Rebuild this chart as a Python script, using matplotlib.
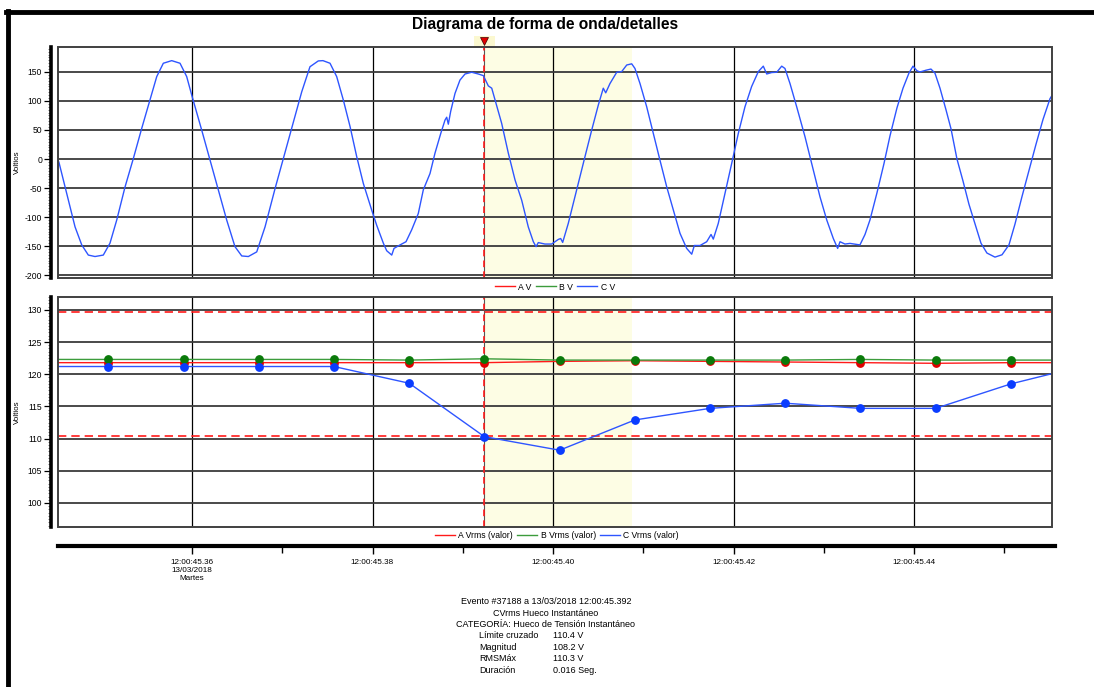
import matplotlib
matplotlib.use("Agg")
import matplotlib.pyplot as plt
from matplotlib.ticker import MultipleLocator, FixedLocator
from matplotlib.lines import Line2D
from matplotlib.patches import Rectangle
import matplotlib.transforms as mtransforms

plt.rcParams['font.family'] = ['Liberation Sans', 'DejaVu Sans']
plt.rcParams['axes.unicode_minus'] = False

# ---------------- data ----------------
# time axis: milliseconds after 12:00:45.340
wave_t = [4.82, 5.26, 5.74, 6.48, 7.04, 7.78, 8.51, 9.25, 10.17, 10.91,
          11.66, 12.58, 13.50, 14.43, 15.35, 16.09, 16.82, 17.75, 18.67, 19.41,
          19.97, 21.07, 22.00, 22.91, 23.84, 24.76, 25.51, 26.24, 27.17, 28.09,
          29.20, 30.12, 31.05, 32.16, 33.07, 33.99, 34.51, 35.29, 36.03, 36.76,
          37.51, 38.25, 38.98, 39.91, 40.46, 41.20, 41.57, 42.13, 42.38, 43.05,
          43.71, 44.34, 45.07, 45.63, 46.37, 46.92, 47.56, 48.03, 48.22, 48.40,
          48.66, 49.14, 49.69, 50.25, 50.99, 51.72, 52.28, 52.83, 53.21, 53.57,
          54.31, 55.05, 55.79, 56.53, 57.26, 57.82, 58.12, 58.37, 59.11, 59.85,
          60.59, 60.85, 61.07, 61.69, 62.62, 63.35, 63.54, 64.29, 65.02, 65.57,
          65.84, 66.31, 67.06, 67.61, 68.17, 68.72, 69.08, 69.64, 70.38, 71.11,
          71.85, 72.60, 73.33, 74.07, 74.81, 75.37, 75.66, 76.29, 77.03, 77.51,
          77.76, 78.31, 79.06, 79.80, 80.53, 81.27, 82.01, 82.75, 83.30, 83.68,
          84.23, 84.79, 85.34, 85.70, 86.26, 87.00, 87.92, 88.84, 89.58, 90.33,
          91.06, 91.54, 91.80, 92.35, 92.91, 93.38, 94.01, 94.57, 95.12, 95.90,
          96.67, 97.34, 98.11, 98.78, 99.44, 99.89, 100.33, 100.66, 101.33, 101.88,
          102.32, 102.88, 103.54, 104.10, 104.76, 105.43, 106.09, 106.76, 107.42, 108.08,
          108.97, 109.75, 110.52, 111.19, 111.96, 112.74, 113.51, 114.29, 115.07, 115.62]
wave_c = [12, -6, -36, -82, -117, -148, -165.5, -168, -165.5, -145,
          -105, -48, 1, 53, 102, 142, 165, 169.5, 165, 142,
          110, 50, -2, -53, -105, -151, -167, -168, -160, -117,
          -51, 1, 53, 116, 159, 169, 169.5, 165, 142, 102,
          56, 4, -42, -88, -114, -145, -158, -165.5, -154, -148,
          -142.5, -122, -94, -53, -25, 10, 44, 67, 72, 60,
          82, 113, 136, 146.5, 149.5, 146.5, 143.7, 126, 122, 102,
          61.5, 10, -36, -71, -117, -142.5, -151, -144, -146.5, -146.5,
          -138.5, -137, -143.7, -111, -53, -7.5, 4, 50, 93, 122,
          114, 130, 149.5, 150.6, 162, 164, 156, 130, 90, 44,
          -2, -48, -88, -128, -154, -164, -149, -149, -142.5, -130,
          -138, -111, -59, -7.5, 44, 90, 125, 150.6, 160, 146.5,
          149, 149.5, 160, 156, 130, 90, 38.5, -19, -65, -105,
          -137, -154, -142.5, -146.5, -145.4, -146.5, -148, -130, -105, -58,
          -8, 40, 88, 122, 148, 160, 152, 150, 153, 155,
          148, 122, 85, 52, 0, -38, -78, -112, -145, -162,
          -169, -165, -148, -112, -65, -20, 25, 68, 104, 118]

rms_t = [2.40, 10.73, 19.07, 27.40, 35.73, 44.07, 52.40, 60.73,
         69.07, 77.40, 85.73, 94.07, 102.40, 110.73, 119.07]
rms_a = [121.8, 121.8, 121.8, 121.8, 121.8, 121.8, 121.8, 122.0,
         122.1, 122.0, 121.9, 121.8, 121.7, 121.8, 121.8]
rms_b = [122.3, 122.3, 122.3, 122.3, 122.3, 122.2, 122.4, 122.2,
         122.2, 122.2, 122.2, 122.3, 122.2, 122.2, 122.2]
rms_c = [121.2, 121.2, 121.2, 121.2, 121.2, 118.6, 110.3, 108.2,
         112.9, 114.7, 115.5, 114.7, 114.7, 118.5, 121.4]

limit_low = 110.4
limit_high = 129.6
event_start = 52.4
event_end = 68.8

tick_ms = [20, 40, 60, 80, 100]
minor_ms = [30, 50, 70, 90, 110]
tick_labels = ["12:00:45.36\n13/03/2018\nMartes", "12:00:45.38",
               "12:00:45.40", "12:00:45.42", "12:00:45.44"]

wave_legend = ["A V", "B V", "C V"]
rms_legend = ["A Vrms (valor)", "B Vrms (valor)", "C Vrms (valor)"]

info_head = ["Evento #37188 a 13/03/2018 12:00:45.392",
             "CVrms Hueco Instantáneo",
             "CATEGORÍA: Hueco de Tensión Instantáneo"]
info_keys = ["Límite cruzado", "Magnitud", "RMSMáx", "Duración"]
info_vals = ["110.4 V", "108.2 V", "110.3 V", "0.016 Seg."]

# ---------------- figure ----------------
W, H = 1094, 687
fig = plt.figure(figsize=(W / 100, H / 100), dpi=100)

def fx(px):
    return px / W

def fy(py):
    return 1 - py / H

XLIM = (5.15, 115.29)
RED = '#ff1a1a'
GREEN_L = '#3c9c3c'
GREEN_M = '#0a7a0a'
BLUE_L = '#2e55ff'
BLUE_M = '#0a3cff'
GRID = '#3a3a3a'
SHADE = '#fdfde4'

ax1 = fig.add_axes([fx(58), fy(278), fx(994), 231 / H])
ax2 = fig.add_axes([fx(58), fy(527), fx(994), 230 / H])


def style_panel(ax, ylim, major, minor):
    ax.set_xlim(*XLIM)
    ax.set_ylim(*ylim)
    ax.set_axisbelow(True)
    ax.xaxis.set_major_locator(FixedLocator(tick_ms))
    ax.yaxis.set_major_locator(MultipleLocator(major))
    ax.yaxis.set_minor_locator(MultipleLocator(minor))
    ax.grid(True, axis='y', which='major', color=GRID, lw=1.3)
    ax.grid(True, axis='x', which='major', color='black', lw=0.9)
    for s in ['top', 'right', 'bottom']:
        ax.spines[s].set_visible(False)
    ax.spines['left'].set_position(('outward', 5))
    ax.spines['left'].set_linewidth(2.6)
    ax.tick_params(axis='x', length=0, labelbottom=False)
    ax.tick_params(axis='y', which='major', length=5, width=0.9,
                   labelsize=6.2, pad=1.5, colors='black')
    ax.tick_params(axis='y', which='minor', length=2.5, width=0.45,
                   color='#333333')
    ax.add_patch(Rectangle((0, 0), 1, 1, transform=ax.transAxes, fill=False,
                           ec='#404040', lw=1.4, clip_on=False, zorder=5))
    ax.axvspan(event_start, event_end, color=SHADE, zorder=0, lw=0)
    ax.axvline(event_start, color='#555555', lw=0.8, zorder=2)
    ax.axvline(event_start, color=RED, lw=1.2, ls=(0, (4, 2.5)), zorder=3)


style_panel(ax1, (-205, 193), 50, 5)
style_panel(ax2, (96.27, 132.0), 5, 0.5)

# waveform
ax1.plot(wave_t, wave_c, color=BLUE_L, lw=1.0, zorder=4)

# event marker on top
trans = mtransforms.blended_transform_factory(ax1.transData, ax1.transAxes)
ax1.add_patch(Rectangle((event_start - 1.2, 1.004), 2.4, 0.042, transform=trans,
                        color='#fbf8d0', clip_on=False, zorder=5, lw=0))
ax1.plot([event_start], [1.026], transform=trans, marker='v', ms=5.5,
         color='#e00000', mec='#400000', mew=0.5, clip_on=False, zorder=6)

# limits
for lv in (limit_low, limit_high):
    ax2.axhline(lv, color=RED, lw=1.2, ls=(0, (5, 3)), zorder=3)

# RMS series
ax2.plot(rms_t, rms_a, color=RED, lw=1.0, marker='o', ms=5.3, mfc='#e00000',
         mec='#e00000', zorder=4)
ax2.plot(rms_t, rms_b, color=GREEN_L, lw=1.0, marker='o', ms=5.3, mfc=GREEN_M,
         mec=GREEN_M, zorder=4)
ax2.plot(rms_t, rms_c, color=BLUE_L, lw=1.0, marker='o', ms=5.3, mfc=BLUE_M,
         mec=BLUE_M, zorder=4)

# y labels
for ax, ycen in ((ax1, 162), (ax2, 412)):
    fig.text(fx(17), fy(ycen), "Voltios", rotation=90, ha='center',
             va='center', fontsize=5.8)

# legends
h = [Line2D([], [], color=c, lw=1.0) for c in (RED, GREEN_L, BLUE_L)]
fig.legend(h, wave_legend, loc='center', bbox_to_anchor=(fx(555), fy(287)),
           ncol=3, frameon=False, fontsize=6.2, handlelength=2.3,
           columnspacing=0.5, handletextpad=0.4, borderpad=0)
fig.legend(h, rms_legend, loc='center', bbox_to_anchor=(fx(557), fy(536)),
           ncol=3, frameon=False, fontsize=6.2, handlelength=2.3,
           columnspacing=0.5, handletextpad=0.4, borderpad=0)

# time axis
ax3 = fig.add_axes([fx(58), fy(546), fx(997), 0.0001])
ax3.set_xlim(XLIM[0], XLIM[0] + (XLIM[1] - XLIM[0]) * 997 / 994)
ax3.patch.set_visible(False)
for s in ['top', 'right', 'left']:
    ax3.spines[s].set_visible(False)
ax3.spines['bottom'].set_linewidth(3)
ax3.set_yticks([])
ax3.xaxis.set_major_locator(FixedLocator(tick_ms))
ax3.xaxis.set_minor_locator(FixedLocator(minor_ms))
ax3.set_xticklabels(tick_labels, linespacing=1.2)
ax3.tick_params(axis='x', which='major', length=6, width=1, labelsize=5.9, pad=3)
ax3.tick_params(axis='x', which='minor', length=5, width=1)

# title
fig.text(fx(545), fy(24), "Diagrama de forma de onda/detalles", ha='center',
         va='center', fontsize=11.2, fontweight='bold')

# info block
for i, s in enumerate(info_head):
    fig.text(fx(546), fy(602 + 11.4 * i), s, ha='center', va='center', fontsize=6.5)
for i, (k, v) in enumerate(zip(info_keys, info_vals)):
    yy = fy(636 + 11.4 * i)
    fig.text(fx(479), yy, k, ha='left', va='center', fontsize=6.5)
    fig.text(fx(553), yy, v, ha='left', va='center', fontsize=6.5)

# outer frame
fig.add_artist(Line2D([fx(7.5), fx(7.5)], [0, fy(11)], color='black', lw=3.5))
fig.add_artist(Line2D([fx(6), fx(1094)], [fy(11.5), fy(11.5)], color='black', lw=3.5))

fig.savefig("out.png", dpi=100)
